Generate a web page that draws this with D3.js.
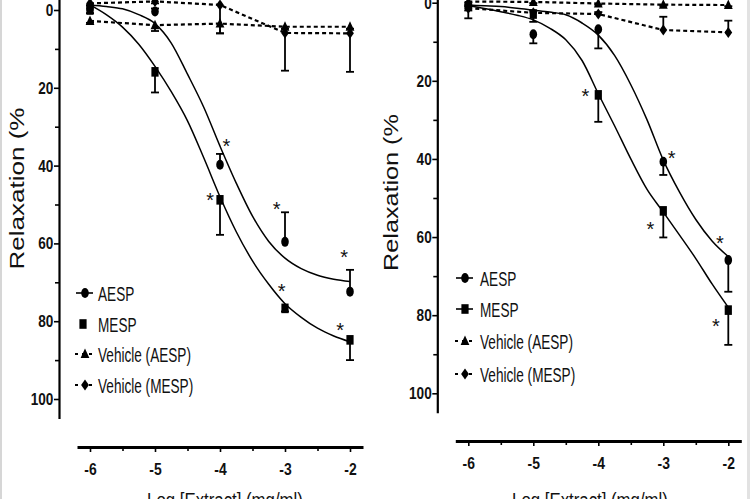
<!DOCTYPE html>
<html>
<head>
<meta charset="utf-8">
<script src="https://cdn.jsdelivr.net/npm/d3@7"></script>
<style>
  body { margin: 0; background: #fff; }
  svg { display: block; }
  text { font-family: "Liberation Sans", Arial, sans-serif; fill: #111; }
</style>
</head>
<body>
<svg width="750" height="499"></svg>
<script>
// ---- data ----
const doses = [-6, -5, -4, -3, -2];
const fitDoses = [-6, -5.75, -5.5, -5.25, -5, -4.75, -4.5, -4.25, -4, -3.75, -3.5, -3.25, -3, -2.75, -2.5, -2.25, -2];
const yTicks = [0, 20, 40, 60, 80, 100];
const yMinor = [10, 30, 50, 70, 90];
const xMinor = [-5.5, -4.5, -3.5, -2.5];
const legendLabels = ['AESP', 'MESP', 'Vehicle (AESP)', 'Vehicle (MESP)'];
const xTitle = 'Log [Extract] (mg/ml)';
const yTitle = 'Relaxation (%';

// left panel
const aespL = [-0.4, 0.4, 39.8, 59.6, 72.4];
const aespLErr = [0.8, 0.8, 2.8, 7.6, 5.6];
const mespL = [0, 15.9, 48.8, 76.7, 84.8];
const mespLErr = [0.8, 5.3, 9, 0.8, 5.2];
const vehAespL = [2.8, 3.9, 3.5, 4.3, 4.3];
const vehAespLErr = [0.5, 1.5, 2.5, 0.5, 0.5];
const vehMespL = [-1.7, -2.2, -1.3, 5.9, 6.0];
const vehMespLErr = [0.5, 0.5, 7.3, 9.7, 9.9];
const aespFitL = [-1.3, -0.9, -0.3, 1.2, 3.5, 8.5, 16.5, 25, 35, 44.5, 53, 59.5, 63.8, 66.5, 68.2, 69.2, 69.8];
const mespFitL = [-1.3, 1.2, 4.4, 8.8, 14.5, 21, 28.5, 38, 48, 57, 64.5, 70.5, 75.5, 79, 81.8, 83.8, 85.3];
const starsL = [[-3.9, 33.9], [-4.15, 47.6], [-3.13, 49.9], [-3.05, 71.1], [-2.09, 62.4], [-2.15, 81]];

// right panel
const aespR = [1.0, 8.1, 6.8, 40.7, 65.9];
const aespRErr = [1, 2.3, 4.9, 3.4, 8.1];
const mespR = [0.8, 2.9, 23.6, 53.3, 78.7];
const mespRErr = [3.2, 2.0, 6.9, 6.8, 8.9];
const vehAespR = [-0.3, -0.2, 0.2, 0.5, 0.6];
const vehAespRErr = [0.3, 0.3, 0.3, 0.3, 0.3];
const vehMespR = [1.4, 2.6, 2.9, 7.0, 7.6];
const vehMespRErr = [0.5, 0.5, 0.5, 3.4, 3.0];
const aespFitR = [0.6, 0.8, 1.0, 1.4, 1.9, 2.4, 3.1, 5.2, 8.3, 13.5, 21, 30, 40.3, 48.5, 55.5, 61, 65];
const mespFitR = [0.8, 1.5, 2.3, 3.2, 4.4, 6.5, 9.5, 14.8, 23.3, 31.5, 40, 47.8, 53.6, 59.5, 65.5, 72, 78];
const starsR = [[-4.2, 22.8], [-2.87, 38.7], [-3.2, 56.7], [-2.13, 60.3], [-2.19, 81.5]];

// ---- layout ----
const panels = [
  {
    xr: [90, 350], yr: [10, 399], xAxisY: 447, yAxisX: 59,
    titleX: 24, titleY: 188.5, titleScale: 1.24, xTitleX: 225,
    legX: 85, legTextX: 98, legY: [293, 324, 354, 385], squareLine: false,
    aesp: aespL, aespErr: aespLErr, aespDir: -1,
    mesp: mespL, mespErr: mespLErr,
    vehA: vehAespL, vehAErr: vehAespLErr, vehADir: 1,
    vehM: vehMespL, vehMErr: vehMespLErr, vehMDir: 1,
    aespFit: aespFitL, mespFit: mespFitL, stars: starsL
  },
  {
    xr: [468.3, 728.3], yr: [2.7, 393.3], xAxisY: 441, yAxisX: 437.3,
    titleX: 398, titleY: 192.5, titleScale: 1.2, xTitleX: 590,
    legX: 465, legTextX: 480, legY: [278, 309, 341, 374], squareLine: true,
    aesp: aespR, aespErr: aespRErr, aespDir: 1,
    mesp: mespR, mespErr: mespRErr,
    vehA: vehAespR, vehAErr: vehAespRErr, vehADir: 1,
    vehM: vehMespR, vehMErr: vehMespRErr, vehMDir: -1,
    aespFit: aespFitR, mespFit: mespFitR, stars: starsR
  }
];

const svg = d3.select('svg');

// faint image borders
svg.append('rect').attr('x', 0).attr('y', 0).attr('width', 2).attr('height', 499).attr('fill', '#d6d6d6');
svg.append('rect').attr('x', 747).attr('y', 0).attr('width', 3).attr('height', 499).attr('fill', '#e2e2e2');

function marker(g, shape, cx, cy) {
  if (shape === 'circle') {
    g.append('ellipse').attr('cx', cx).attr('cy', cy).attr('rx', 3.8).attr('ry', 5).attr('fill', '#000');
  } else if (shape === 'square') {
    g.append('rect').attr('x', cx - 3.6).attr('y', cy - 4.8).attr('width', 7.2).attr('height', 9.6).attr('fill', '#000');
  } else if (shape === 'triangle') {
    g.append('path').attr('d', `M${cx},${cy - 5.5}L${cx + 4.4},${cy + 4}L${cx - 4.4},${cy + 4}Z`).attr('fill', '#000');
  } else {
    g.append('path').attr('d', `M${cx},${cy - 5.5}L${cx + 3.9},${cy}L${cx},${cy + 5.5}L${cx - 3.9},${cy}Z`).attr('fill', '#000');
  }
}

panels.forEach(p => {
  const x = d3.scaleLinear().domain([-6, -2]).range(p.xr);
  const y = d3.scaleLinear().domain([0, 100]).range(p.yr);
  const g = svg.append('g');

  // axes
  const xAxisScale = d3.scaleLinear().domain([-6.2, -1.8]).range([x(-6.2), x(-1.8)]);
  const yAxisScale = d3.scaleLinear().domain([-5, 105]).range([y(-5), y(105)]);

  const xa = g.append('g').attr('transform', `translate(0,${p.xAxisY})`)
    .call(d3.axisBottom(xAxisScale).tickValues(doses).tickSize(5).tickSizeOuter(0)
      .tickPadding(11).tickFormat(d => String(d)));
  xa.select('.domain').attr('stroke-width', 3.2);
  xa.selectAll('.tick line').attr('stroke-width', 1.6);
  xa.selectAll('.tick text').attr('font-size', 17).attr('font-weight', 'bold')
    .attr('font-family', '"Liberation Sans", Arial, sans-serif').attr('fill', '#111')
    .attr('transform', 'scale(0.82,1)');
  const xm = g.append('g').attr('transform', `translate(0,${p.xAxisY})`)
    .call(d3.axisBottom(xAxisScale).tickValues(xMinor).tickSize(4).tickFormat(''));
  xm.select('.domain').remove();
  xm.selectAll('.tick line').attr('stroke-width', 1.6);

  const ya = g.append('g').attr('transform', `translate(${p.yAxisX},0)`)
    .call(d3.axisLeft(yAxisScale).tickValues(yTicks).tickSize(5).tickSizeOuter(0)
      .tickPadding(2).tickFormat(d => String(d)));
  ya.select('.domain').attr('stroke-width', 2.2);
  ya.selectAll('.tick line').attr('stroke-width', 1.6);
  ya.selectAll('.tick text').attr('font-size', 17).attr('font-weight', 'bold')
    .attr('font-family', '"Liberation Sans", Arial, sans-serif').attr('fill', '#111')
    .attr('transform', 'scale(0.8,1)');
  const ym = g.append('g').attr('transform', `translate(${p.yAxisX},0)`)
    .call(d3.axisLeft(yAxisScale).tickValues(yMinor).tickSize(4).tickFormat(''));
  ym.select('.domain').remove();
  ym.selectAll('.tick line').attr('stroke-width', 1.6);

  // axis titles
  g.append('text')
    .attr('transform', `translate(${p.titleX},${p.titleY}) rotate(-90) scale(${p.titleScale},1)`)
    .attr('text-anchor', 'middle').attr('font-size', 21).text(yTitle);
  g.append('text')
    .attr('transform', `translate(${p.xTitleX},507) scale(0.8,1)`)
    .attr('text-anchor', 'middle').attr('font-size', 21).text(xTitle);

  // fitted curves
  const curve = d3.line().x((d, i) => x(fitDoses[i])).y(d => y(d)).curve(d3.curveMonotoneX);
  [p.aespFit, p.mespFit].forEach(f => {
    g.append('path').attr('d', curve(f)).attr('fill', 'none')
      .attr('stroke', '#000').attr('stroke-width', 1.5);
  });

  // vehicle dashed lines
  const straight = d3.line().x((d, i) => x(doses[i])).y(d => y(d));
  [p.vehA, p.vehM].forEach(v => {
    g.append('path').attr('d', straight(v)).attr('fill', 'none')
      .attr('stroke', '#000').attr('stroke-width', 2.2).attr('stroke-dasharray', '4,3');
  });

  // error bars
  const bars = [
    [p.aesp, p.aespErr, p.aespDir],
    [p.mesp, p.mespErr, 1],
    [p.vehA, p.vehAErr, p.vehADir],
    [p.vehM, p.vehMErr, p.vehMDir]
  ];
  bars.forEach(([vals, errs, dir]) => {
    vals.forEach((v, i) => {
      const cx = x(doses[i]);
      const yEnd = y(v + dir * errs[i]);
      g.append('line').attr('x1', cx).attr('x2', cx).attr('y1', y(v)).attr('y2', yEnd)
        .attr('stroke', '#000').attr('stroke-width', 1.8);
      g.append('line').attr('x1', cx - 4).attr('x2', cx + 4).attr('y1', yEnd).attr('y2', yEnd)
        .attr('stroke', '#000').attr('stroke-width', 1.8);
    });
  });

  // markers
  const sets = [[p.vehA, 'triangle'], [p.vehM, 'diamond'], [p.mesp, 'square'], [p.aesp, 'circle']];
  sets.forEach(([vals, shape]) => {
    vals.forEach((v, i) => marker(g, shape, x(doses[i]), y(v)));
  });

  // significance asterisks
  g.selectAll('.star').data(p.stars).enter().append('text')
    .attr('class', 'star')
    .attr('x', d => x(d[0])).attr('y', d => y(d[1]))
    .attr('dy', '0.58em').attr('text-anchor', 'middle')
    .attr('font-size', 20).text('*');

  // legend
  const shapes = ['circle', 'square', 'triangle', 'diamond'];
  legendLabels.forEach((lab, i) => {
    const cy = p.legY[i];
    if (i === 0 || (i === 1 && p.squareLine)) {
      g.append('line').attr('x1', p.legX - 9).attr('x2', p.legX + 8).attr('y1', cy).attr('y2', cy)
        .attr('stroke', '#000').attr('stroke-width', 1.6);
    } else if (i > 1) {
      g.append('line').attr('x1', p.legX - 10).attr('x2', p.legX + 10).attr('y1', cy).attr('y2', cy)
        .attr('stroke', '#000').attr('stroke-width', 1.8).attr('stroke-dasharray', '3,4');
    }
    marker(g, shapes[i], p.legX + (i === 1 && !p.squareLine ? -2 : 0), cy);
    g.append('text')
      .attr('transform', `translate(${p.legTextX},${cy + 7.5}) scale(0.68,1)`)
      .attr('font-size', 20).text(lab);
  });
});
</script>
</body>
</html>
